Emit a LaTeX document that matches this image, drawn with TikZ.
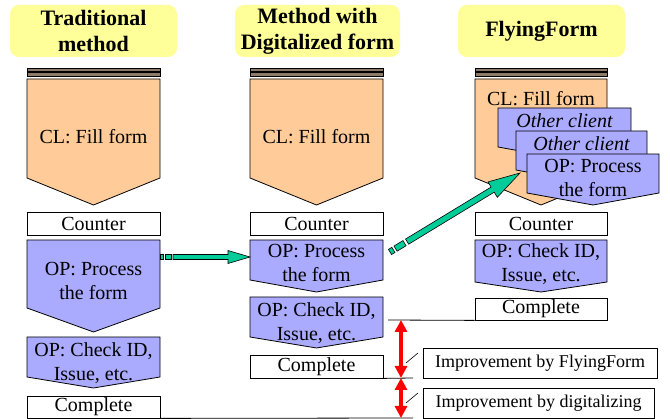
\documentclass[tikz,border=0pt]{standalone}
\usepackage{fontspec}
\setmainfont{Liberation Serif}
\usetikzlibrary{calc,arrows.meta}

\definecolor{orng}{HTML}{FFCC99}
\definecolor{lav}{HTML}{AAAAFF}
\definecolor{ylw}{HTML}{FFFF99}
\definecolor{grn}{HTML}{00CC99}
\definecolor{barc}{HTML}{8C7B6B}

% chevron shape: x1, x2, top, side-bottom, tip, fill
\newcommand\chevbox[6]{%
  \filldraw[fill=#6, draw=black, line width=0.8pt] (#1,#3) -- (#2,#3) -- (#2,#4) -- ({(#1+#2)/2},#5) -- (#1,#4) -- cycle;}

% one straight piece of a fat arrow: a, b, from-dist, to-dist, half width
\newcommand\fatseg[5]{%
  \coordinate (sg-p) at ($(#1)!#3!(#2)$);
  \coordinate (sg-q) at ($(#1)!#4!(#2)$);
  \filldraw[fill=grn, draw=black, line width=0.6pt]
    ($(sg-p)!#5!90:(sg-q)$) -- ($(sg-q)!#5!-90:(sg-p)$) -- ($(sg-q)!#5!90:(sg-p)$) -- ($(sg-p)!#5!-90:(sg-q)$) -- cycle;}

% fat arrow body with head: a, b, solid start dist, half shaft, head length, head half width
\newcommand\fatarrow[6]{%
  \coordinate (fa-s) at ($(#1)!#3!(#2)$);
  \coordinate (fa-h) at ($(#2)!#5!(#1)$);
  \filldraw[fill=grn, draw=black, line width=0.6pt]
    ($(fa-s)!#4!90:(fa-h)$) -- ($(fa-h)!#4!-90:(fa-s)$) -- ($(fa-h)!#6!-90:(fa-s)$) -- (#2)
    -- ($(fa-h)!#6!90:(fa-s)$) -- ($(fa-h)!#4!90:(fa-s)$) -- ($(fa-s)!#4!-90:(fa-h)$) -- cycle;}

\tikzset{
  titlebox/.style={fill=ylw, rounded corners=9pt, minimum height=52pt, align=center,
    font=\fontsize{22}{26}\selectfont\bfseries, inner sep=0pt},
  bodytext/.style={font=\fontsize{20}{24}\selectfont, align=center, inner sep=0pt},
  plainbox/.style={draw, fill=white, line width=0.8pt, minimum width=133pt, minimum height=23pt,
    inner sep=0pt, font=\fontsize{20}{24}\selectfont},
  labelbox/.style={draw, fill=white, line width=0.8pt, minimum height=30pt, inner sep=0pt,
    font=\fontsize{18}{22}\selectfont},
  thinline/.style={draw=black, line width=0.8pt},
  redarrow/.style={draw=red, line width=3.2pt,
    {Triangle[width=12pt,length=12pt]}-{Triangle[width=12pt,length=12pt]}}
}

\begin{document}
\begin{tikzpicture}[x=1pt, y=-1pt]
\useasboundingbox (0,0) rectangle (670,419);

% titles
\node[titlebox, minimum width=167pt] (t1) at (93.5,31) {Traditional\\method};
\node[titlebox, minimum width=165pt] (t2) at (317.5,31) {Method with\\Digitalized form};
\node[titlebox, minimum width=167pt] (t3) at (541.5,31) {FlyingForm};

% double bars
\foreach \xa/\xb in {27/160, 250/383, 475/607} {
  \filldraw[fill=barc, draw=black, line width=0.5pt] (\xa,68) rectangle (\xb,71.3);
  \filldraw[fill=barc, draw=black, line width=0.5pt] (\xa,72.7) rectangle (\xb,76);
}

% ---------- column 1 ----------
\chevbox{27}{160}{79}{178}{205}{orng}
\node[bodytext] (cl1) at (93.5,137) {CL: Fill form};
\node[plainbox] (cnt1) at (93.5,223.5) {Counter};
\chevbox{27}{160}{240}{308}{332}{lav}
\node[bodytext] (op1) at (93.5,281) {OP: Process\\the form};
\chevbox{27}{160}{337}{377}{388}{lav}
\node[bodytext] (ck1) at (93.5,363.5) {OP: Check ID,\\Issue, etc.};
\node[plainbox, minimum height=22pt] (cp1) at (93.5,407) {Complete};

% ---------- column 2 ----------
\chevbox{250}{383}{79}{178}{205}{orng}
\node[bodytext] (cl2) at (316.5,137) {CL: Fill form};
\node[plainbox] (cnt2) at (316.5,223.5) {Counter};
\chevbox{250}{383}{240}{280}{292}{lav}
\node[bodytext] (op2) at (316.5,263.2) {OP: Process\\the form};
\chevbox{250}{383}{297}{337}{348}{lav}
\node[bodytext] (ck2) at (316.5,323.5) {OP: Check ID,\\Issue, etc.};
\node[plainbox] (cp2) at (316.5,366.5) {Complete};

% ---------- column 3 ----------
\chevbox{475}{607}{79}{178}{205}{orng}
\node[bodytext] (cl3) at (541,99) {CL: Fill form};
\chevbox{498}{631}{108}{147}{159}{lav}
\node[bodytext, font=\fontsize{20}{24}\selectfont\itshape] (oc1) at (564.5,120.2) {Other client};
\chevbox{516}{647}{131}{170}{182}{lav}
\node[bodytext, font=\fontsize{20}{24}\selectfont\itshape] (oc2) at (581.5,143.2) {Other client};
\chevbox{527}{659}{154}{193}{205}{lav}
\node[bodytext] (op3) at (593,178.2) {OP: Process\\the form};
\node[plainbox, minimum width=132pt] (cnt3) at (541,223.5) {Counter};
\chevbox{475}{607}{240}{282}{292}{lav}
\node[bodytext] (ck3) at (541,264.6) {OP: Check ID,\\Issue, etc.};
\node[plainbox, minimum width=132pt, minimum height=22pt] (cp3) at (541,309) {Complete};

% ---------- comparison lines and arrows ----------
\coordinate (hl1) at (388,320);
\coordinate (hl2) at (413,378);
\coordinate (hl3) at (413,418);
\draw[thinline] (cp3.south west) -- (hl1);
\draw[thinline] (cp2.south east) -- (hl2);
\draw[thinline] (cp1.south east) -- (hl3);

\coordinate (ra) at (401,320);
\coordinate (rb) at (401,378);
\coordinate (rc) at (401,418);
\draw[redarrow] (ra) -- (rb);
\draw[redarrow] (rb) -- (rc);

\node[labelbox, minimum width=234pt] (lab1) at (540,363) {Improvement by FlyingForm};
\node[labelbox, minimum width=231pt] (lab2) at (538.5,403) {Improvement by digitalizing};
\coordinate (ld1) at (406,363);
\coordinate (ld2) at (406,403);
\draw[thinline, line width=0.6pt] (ld1) -- (418,353);
\draw[thinline, line width=0.6pt] (ld2) -- (418,393);

% ---------- green arrows ----------
\coordinate (g1s) at (160,257);
\coordinate (g1e) at (250,257);
\fatseg{g1s}{g1e}{0pt}{3.5pt}{2.5pt}
\fatseg{g1s}{g1e}{5.5pt}{11pt}{2.5pt}
\fatarrow{g1s}{g1e}{13pt}{2.5pt}{22pt}{6.5pt}

\coordinate (g2s) at (390,252);
\coordinate (g2e) at (520,173);
\fatseg{g2s}{g2e}{0pt}{4pt}{3pt}
\fatseg{g2s}{g2e}{6.5pt}{17pt}{3pt}
\fatarrow{g2s}{g2e}{20pt}{3pt}{32pt}{9pt}
\end{tikzpicture}
\end{document}
